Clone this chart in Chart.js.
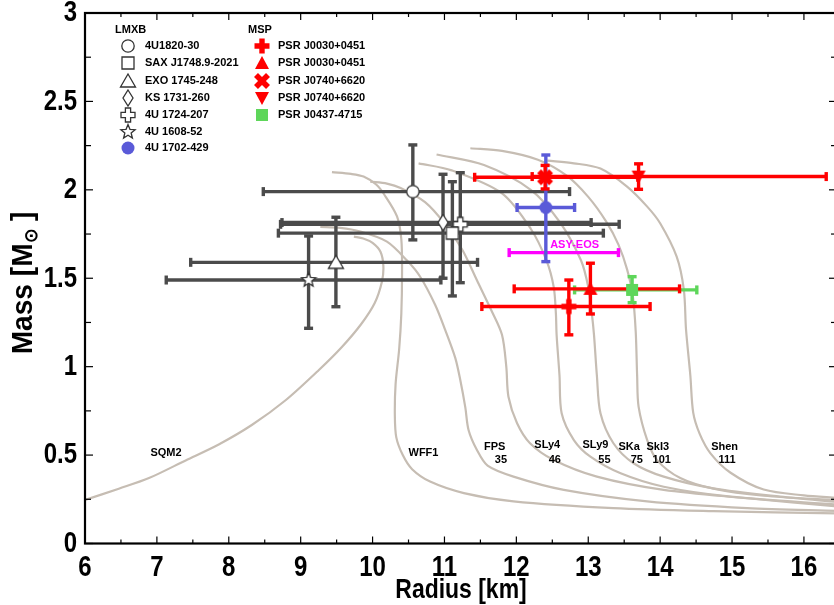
<!DOCTYPE html>
<html><head><meta charset="utf-8">
<script src="https://cdn.jsdelivr.net/npm/chart.js@4"></script>
<style>html,body{margin:0;padding:0;background:#fff;overflow:hidden}#wrap{width:850px;height:605px}</style>
</head><body><div id="wrap"><canvas id="c" width="850" height="605"></canvas></div>
<script>
// ---------------- DATA ----------------
const xTickValues = [6, 7, 8, 9, 10, 11, 12, 13, 14, 15, 16];
const xTickLabels = ['6', '7', '8', '9', '10', '11', '12', '13', '14', '15', '16'];
const xMinorValues = [6.5, 7.5, 8.5, 9.5, 10.5, 11.5, 12.5, 13.5, 14.5, 15.5];
const yTickValues = [0, 0.5, 1, 1.5, 2, 2.5, 3];
const yTickLabels = ['0', '0.5', '1', '1.5', '2', '2.5', '3'];
const yMinorValues = [0.25, 0.75, 1.25, 1.75, 2.25, 2.75];

// LMXB sources (radius km, mass Msun) with error ranges
const lmxbNames = ['4U1820-30', 'SAX J1748.9-2021', 'EXO 1745-248', 'KS 1731-260', '4U 1724-207', '4U 1608-52', '4U 1702-429'];
const lmxbR    = [10.56, 11.11, 9.49, 10.98, 11.22, 9.11, 12.41];
const lmxbRlo  = [8.48, 8.69, 7.47, 8.74, 8.72, 7.13, 12.01];
const lmxbRhi  = [12.74, 13.21, 11.46, 13.04, 13.43, 10.95, 12.81];
const lmxbM    = [1.99, 1.755, 1.59, 1.815, 1.805, 1.49, 1.90];
const lmxbMlo  = [1.717, 1.40, 1.339, 1.50, 1.475, 1.217, 1.594];
const lmxbMhi  = [2.254, 2.046, 1.845, 2.088, 2.097, 1.739, 2.197];

// MSP (NICER) sources
const mspNames = ['PSR J0030+0451', 'PSR J0030+0451', 'PSR J0740+6620', 'PSR J0740+6620', 'PSR J0437-4715'];
const mspR    = [12.73, 13.03, 12.40, 13.70, 13.61];
const mspRlo  = [11.52, 11.97, 11.42, 12.22, 12.81];
const mspRhi  = [13.86, 14.27, 13.69, 16.31, 14.51];
const mspM    = [1.34, 1.44, 2.071, 2.075, 1.434];
const mspMlo  = [1.18, 1.298, 2.005, 2.003, 1.362];
const mspMhi  = [1.49, 1.585, 2.138, 2.147, 1.509];

// ASY-EOS radius constraint
const asyRange = [11.90, 13.42];
const asyMass = 1.645;

// EOS mass-radius curves [R, M]
const eosNames = ['SQM2', 'WFF1', 'FPS', 'SLy4', 'SLy9', 'SKa', 'SkI3', 'Shen'];
const eosL     = ['', '', '35', '46', '55', '75', '101', '111'];
const sqm2 = [[6.0,0.246],[6.47,0.31],[6.89,0.37],[7.4,0.47],[7.86,0.56],[8.32,0.67],[8.79,0.81],[9.25,0.98],[9.57,1.11],[9.84,1.24],[10.03,1.36],[10.13,1.48],[10.15,1.57],[10.11,1.65],[10.0,1.70],[9.87,1.725],[9.74,1.735]];
const wff1 = [[9.435,2.10],[9.7,2.09],[9.875,2.075],[10.05,2.03],[10.16,1.975],[10.34,1.85],[10.40,1.72],[10.41,1.53],[10.40,1.3],[10.37,1.1],[10.32,0.9],[10.31,0.72],[10.33,0.6],[10.42,0.5],[10.55,0.42],[10.80,0.35],[11.27,0.285],[11.96,0.238],[13.35,0.20],[14.74,0.183],[16.46,0.17]];
const fps  = [[9.273,1.79],[9.55,1.785],[9.83,1.764],[10.2,1.707],[10.48,1.60],[10.66,1.51],[10.87,1.35],[11.01,1.208],[11.15,1.05],[11.22,0.925],[11.29,0.77],[11.335,0.642],[11.45,0.53],[11.6,0.44],[11.96,0.378],[12.66,0.303],[13.82,0.238],[15.21,0.2],[16.46,0.185]];
const sly4 = [[9.968,2.046],[10.2,2.035],[10.39,2.01],[10.73,1.93],[11.0,1.81],[11.25,1.66],[11.45,1.49],[11.65,1.32],[11.8,1.18],[11.86,1.0],[11.89,0.83],[12.01,0.68],[12.19,0.567],[12.52,0.472],[13.12,0.378],[14.05,0.303],[15.21,0.256],[16.46,0.21]];
const sly9 = [[10.64,2.15],[11.1,2.11],[11.8,1.98],[12.2,1.78],[12.42,1.6],[12.52,1.45],[12.55,1.3],[12.56,1.18],[12.6,0.95],[12.63,0.736],[12.80,0.585],[13.03,0.491],[13.45,0.397],[14.05,0.321],[14.98,0.265],[16.46,0.22]];
const ska  = [[10.89,2.2],[11.55,2.14],[12.2,2.0],[12.6,1.82],[12.9,1.6],[13.0,1.45],[13.05,1.3],[13.08,1.18],[13.12,0.95],[13.17,0.736],[13.35,0.567],[13.63,0.454],[14.05,0.378],[14.74,0.312],[15.67,0.265],[16.46,0.235]];
const ski3 = [[11.36,2.235],[11.8,2.22],[12.3,2.17],[12.7,2.08],[13.0,1.96],[13.25,1.82],[13.42,1.69],[13.54,1.55],[13.62,1.40],[13.66,1.2],[13.68,0.95],[13.7,0.774],[13.82,0.585],[13.96,0.47],[14.28,0.37],[14.74,0.31],[15.44,0.27],[16.46,0.245]];
const shen = [[12.43,2.165],[12.8,2.15],[13.17,2.12],[13.54,2.018],[13.82,1.905],[14.0,1.811],[14.23,1.622],[14.33,1.434],[14.36,1.21],[14.42,0.95],[14.46,0.74],[14.55,0.62],[14.7,0.51],[14.98,0.4],[15.44,0.305],[16.0,0.272],[16.46,0.258]];
const eosCurves = [sqm2, wff1, fps, sly4, sly9, ska, ski3, shen];
// label anchors (R of left edge, M of line centre) for EOS names and L values
const eosNameAt = [[6.91,0.512],[10.50,0.512],[11.55,0.546],[12.25,0.557],[12.92,0.557],[13.42,0.546],[13.81,0.546],[14.71,0.546]];
const eosLAt    = [null, null, [11.87,0.472],[12.62,0.472],[13.31,0.472],[13.76,0.472],[14.15,0.472],[14.93,0.472]];

// ---------------- STYLE ----------------
const FR = "'Liberation Sans',Arial,sans-serif";
const GRAY = '#4b4b4b', RED = '#ff0000', BLUE = '#5a5ad8', GREEN = '#5ed65a', MAG = '#ff00ff', CURVE = '#c6bdb3';

function icon(size, fn) { const c = document.createElement('canvas'); c.width = c.height = size; const g = c.getContext('2d'); g.translate(size / 2, size / 2); fn(g); return c; }
function poly(g, pts) { g.beginPath(); pts.forEach((p, i) => i ? g.lineTo(p[0], p[1]) : g.moveTo(p[0], p[1])); g.closePath(); }
function openFill(g) { g.fillStyle = '#fff'; g.fill(); g.lineWidth = 1.3; g.strokeStyle = '#333'; g.stroke(); }
function plusPts(a, b) { return [[-a,-b],[a,-b],[a,-a],[b,-a],[b,a],[a,a],[a,b],[-a,b],[-a,a],[-b,a],[-b,-a],[-a,-a]]; }
const IM = {
  circle: icon(16, g => { g.beginPath(); g.arc(0, 0, 6.2, 0, Math.PI * 2); openFill(g); }),
  square: icon(16, g => { poly(g, [[-6,-6],[6,-6],[6,6],[-6,6]]); openFill(g); }),
  triangle: icon(18, g => { poly(g, [[0,-7],[7.5,6],[-7.5,6]]); openFill(g); }),
  diamond: icon(18, g => { poly(g, [[0,-8],[5,0],[0,8],[-5,0]]); openFill(g); }),
  cross: icon(18, g => { poly(g, plusPts(2.6, 7)); openFill(g); }),
  star: icon(18, g => { const p = []; for (let k = 0; k < 10; k++) { const r = k % 2 ? 3.3 : 7.5, t = -Math.PI / 2 + k * Math.PI / 5; p.push([r * Math.cos(t), r * Math.sin(t)]); } poly(g, p); openFill(g); }),
  dot: icon(16, g => { g.beginPath(); g.arc(0, 0, 6.5, 0, Math.PI * 2); g.fillStyle = BLUE; g.fill(); }),
  plus: icon(18, g => { poly(g, plusPts(2.7, 7.5)); g.fillStyle = RED; g.fill(); }),
  tri: icon(18, g => { poly(g, [[0,-7],[7,6],[-7,6]]); g.fillStyle = RED; g.fill(); }),
  x: icon(20, g => { g.rotate(Math.PI / 4); poly(g, plusPts(2.8, 8.5)); g.fillStyle = RED; g.fill(); }),
  down: icon(18, g => { poly(g, [[0,7],[7,-6],[-7,-6]]); g.fillStyle = RED; g.fill(); }),
  gsq: icon(16, g => { g.fillStyle = GREEN; g.fillRect(-6, -6, 12, 12); })
};
const lmxbIcon = [IM.circle, IM.square, IM.triangle, IM.diamond, IM.cross, IM.star, IM.dot];
const mspIcon = [IM.plus, IM.tri, IM.x, IM.down, IM.gsq];

// ---------------- DATASETS ----------------
const datasets = [];
eosCurves.forEach((c, i) => datasets.push({
  label: eosNames[i], data: c.map(p => ({ x: p[0], y: p[1] })), showLine: true,
  borderColor: CURVE, borderWidth: 2.2, pointRadius: 0, tension: 0.3, fill: false, order: 9
}));
lmxbNames.forEach((n, i) => datasets.push({
  label: n, data: [{ x: lmxbR[i], y: lmxbM[i] }], pointStyle: lmxbIcon[i], pointRadius: 6,
  order: i === 6 ? 4 : 5, isMarker: true
}));
mspNames.forEach((n, i) => datasets.push({
  label: n, data: [{ x: mspR[i], y: mspM[i] }], pointStyle: mspIcon[i], pointRadius: 6,
  order: i === 4 ? 3 : 1, isMarker: true
}));

// ---------------- PLUGINS ----------------
function seg(ctx, x1, y1, x2, y2) { ctx.beginPath(); ctx.moveTo(x1, y1); ctx.lineTo(x2, y2); ctx.stroke(); }
function hBar(ctx, xs, ys, lo, hi, v, color) {
  const y = ys.getPixelForValue(v), a = xs.getPixelForValue(lo), b = xs.getPixelForValue(hi);
  ctx.strokeStyle = color; ctx.lineWidth = 3.4;
  seg(ctx, a, y, b, y); seg(ctx, a, y - 4.5, a, y + 4.5); seg(ctx, b, y - 4.5, b, y + 4.5);
}
function vBar(ctx, xs, ys, lo, hi, v, color) {
  const x = xs.getPixelForValue(v), a = ys.getPixelForValue(lo), b = ys.getPixelForValue(hi);
  ctx.strokeStyle = color; ctx.lineWidth = 3.4;
  seg(ctx, x, a, x, b); seg(ctx, x - 4.5, a, x + 4.5, a); seg(ctx, x - 4.5, b, x + 4.5, b);
}
// condensed text: draw with horizontal squeeze
function ctext(ctx, txt, x, y, size, sq, align) {
  ctx.save(); ctx.translate(x, y); ctx.scale(sq, 1);
  ctx.font = 'bold ' + size + 'px ' + FR; ctx.textAlign = align; ctx.textBaseline = 'middle';
  ctx.fillText(txt, 0, 0); ctx.restore();
}
let barsDone = false;
const errorBars = {
  id: 'errorBars',
  beforeDatasetsDraw() { barsDone = false; },
  beforeDatasetDraw(chart, args) {
    const ds = chart.data.datasets[args.index];
    if (!ds.isMarker || barsDone) return;
    barsDone = true;
    const ctx = chart.ctx, xs = chart.scales.x, ys = chart.scales.y;
    ctx.save(); ctx.lineCap = 'butt';
    for (let i = 0; i < 6; i++) { hBar(ctx, xs, ys, lmxbRlo[i], lmxbRhi[i], lmxbM[i], GRAY); vBar(ctx, xs, ys, lmxbMlo[i], lmxbMhi[i], lmxbR[i], GRAY); }
    hBar(ctx, xs, ys, asyRange[0], asyRange[1], asyMass, MAG);
    hBar(ctx, xs, ys, lmxbRlo[6], lmxbRhi[6], lmxbM[6], BLUE); vBar(ctx, xs, ys, lmxbMlo[6], lmxbMhi[6], lmxbR[6], BLUE);
    hBar(ctx, xs, ys, mspRlo[4], mspRhi[4], mspM[4], GREEN); vBar(ctx, xs, ys, mspMlo[4], mspMhi[4], mspR[4], GREEN);
    for (let i = 0; i < 4; i++) { hBar(ctx, xs, ys, mspRlo[i], mspRhi[i], mspM[i], RED); vBar(ctx, xs, ys, mspMlo[i], mspMhi[i], mspR[i], RED); }
    ctx.restore();
  }
};
const decor = {
  id: 'decor',
  afterDraw(chart) {
    const ctx = chart.ctx, a = chart.chartArea, xs = chart.scales.x, ys = chart.scales.y;
    ctx.save();
    // EOS labels
    ctx.fillStyle = '#000'; ctx.font = 'bold 11px ' + FR; ctx.textBaseline = 'middle';
    eosNames.forEach((n, i) => {
      ctx.textAlign = 'left';
      ctx.fillText(n, xs.getPixelForValue(eosNameAt[i][0]), ys.getPixelForValue(eosNameAt[i][1]));
      if (eosLAt[i]) { ctx.textAlign = i === 7 ? 'center' : 'right'; ctx.fillText(eosL[i], xs.getPixelForValue(eosLAt[i][0]), ys.getPixelForValue(eosLAt[i][1])); }
    });
    ctx.textAlign = 'left'; ctx.fillStyle = MAG;
    ctx.fillText('ASY-EOS', xs.getPixelForValue(12.47), ys.getPixelForValue(1.688));
    // legend
    ctx.fillStyle = '#000';
    ctx.fillText('LMXB', 115, 30); ctx.fillText('MSP', 248, 30);
    const rows = [46, 63, 80.5, 98, 114.5, 131.5, 148];
    lmxbNames.forEach((n, i) => { const im = lmxbIcon[i]; ctx.drawImage(im, Math.round(128 - im.width / 2), Math.round(rows[i] - im.height / 2)); ctx.fillText(n, 145, rows[i]); });
    mspNames.forEach((n, i) => { const im = mspIcon[i]; ctx.drawImage(im, Math.round(262 - im.width / 2), Math.round(rows[i] - im.height / 2)); ctx.fillText(n, 278, rows[i]); });
    // ticks and frame
    ctx.strokeStyle = '#000'; ctx.lineWidth = 1.2;
    xTickValues.forEach(v => { const p = xs.getPixelForValue(v); seg(ctx, p, a.bottom, p, a.bottom - 7); seg(ctx, p, a.top, p, a.top + 7); });
    xMinorValues.forEach(v => { const p = xs.getPixelForValue(v); seg(ctx, p, a.bottom, p, a.bottom - 4); seg(ctx, p, a.top, p, a.top + 4); });
    yTickValues.forEach(v => { const p = ys.getPixelForValue(v); seg(ctx, a.left, p, a.left + 8, p); seg(ctx, a.right, p, a.right - 8, p); });
    yMinorValues.forEach(v => { const p = ys.getPixelForValue(v); seg(ctx, a.left, p, a.left + 6, p); seg(ctx, a.right, p, a.right - 6, p); });
    ctx.lineWidth = 2.2; ctx.strokeRect(a.left, a.top, a.right - a.left, a.bottom - a.top);
    // tick labels (condensed bold)
    ctx.fillStyle = '#000';
    xTickValues.forEach((v, i) => ctext(ctx, xTickLabels[i], xs.getPixelForValue(v), a.bottom + 24, 30, 0.8, 'center'));
    yTickValues.forEach((v, i) => ctext(ctx, yTickLabels[i], a.left - 8, ys.getPixelForValue(v), 30, 0.8, 'right'));
    // x-axis title
    ctext(ctx, 'Radius [km]', (a.left + a.right) / 2, 590, 28, 0.82, 'center');
    // y-axis title with subscript sun symbol
    ctx.translate(22, 283); ctx.rotate(-Math.PI / 2); ctx.scale(0.97, 1);
    ctx.textAlign = 'left'; ctx.textBaseline = 'alphabetic';
    const big = 'bold 29px ' + FR, small = 'bold 18px ' + FR;
    ctx.font = big; const w1 = ctx.measureText('Mass [M').width, w3 = ctx.measureText(' ]').width;
    ctx.font = small; const w2 = ctx.measureText('\u2299').width;
    let sx = -(w1 + w2 + w3) / 2;
    ctx.font = big; ctx.fillText('Mass [M', sx, 10); sx += w1;
    ctx.font = small; ctx.fillText('\u2299', sx, 15); sx += w2;
    ctx.font = big; ctx.fillText(' ]', sx, 10);
    ctx.restore();
  }
};

// ---------------- CHART ----------------
new Chart(document.getElementById('c'), {
  type: 'scatter',
  data: { datasets },
  options: {
    responsive: false, animation: false, events: [],
    layout: { padding: { top: 13, right: 13, left: 0, bottom: 0 } },
    plugins: { legend: { display: false }, tooltip: { enabled: false } },
    scales: {
      x: {
        type: 'linear', min: 6, max: 16.46,
        grid: { display: false, drawTicks: false }, border: { display: false },
        afterBuildTicks: s => { s.ticks = xTickValues.map(v => ({ value: v })); },
        afterFit: s => { s.height = 61.5; },
        ticks: { display: false }
      },
      y: {
        type: 'linear', min: 0, max: 3,
        grid: { display: false, drawTicks: false }, border: { display: false },
        afterBuildTicks: s => { s.ticks = yTickValues.map(v => ({ value: v })); },
        afterFit: s => { s.width = 85; },
        ticks: { display: false }
      }
    }
  },
  plugins: [errorBars, decor]
});
</script></body></html>
